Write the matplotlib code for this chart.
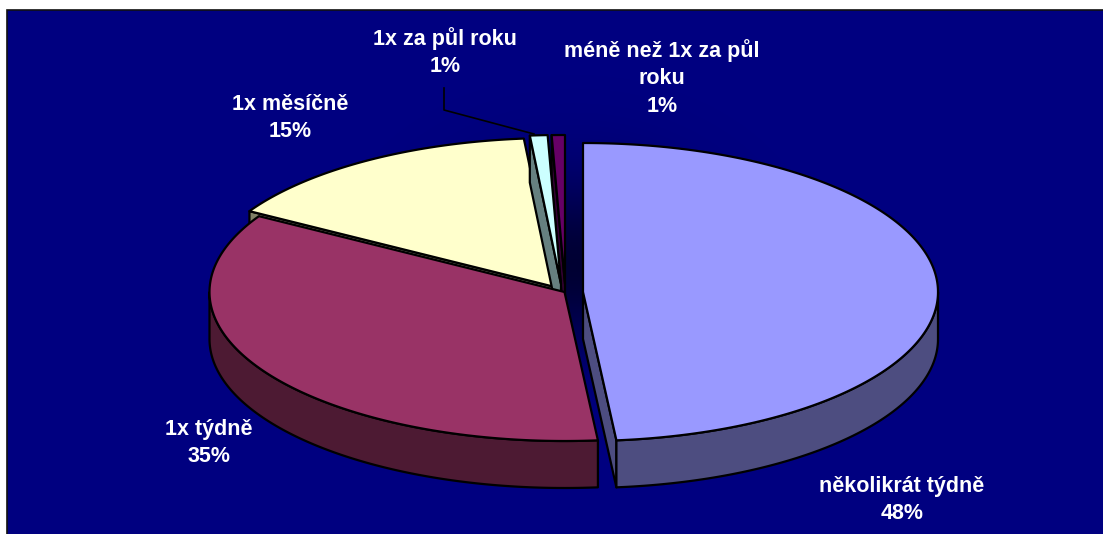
import numpy as np
from matplotlib import pyplot as plt
from matplotlib.patches import Polygon, Rectangle

# slices, clockwise from 12 o'clock
categories = ['několikrát týdně', '1x týdně', '1x měsíčně', '1x za půl roku', 'méně než 1x za půl\nroku']
values = [48.5, 35.0, 15.1, 0.8, 0.6]
pct_labels = ['48%', '35%', '15%', '1%', '1%']

top_colors = ['#9999FF', '#993366', '#FFFFCC', '#CCFFFF', '#660066']
side_colors = ['#4D4D80', '#4D1A33', '#808066', '#668080', '#330033']

# where each exploded slice has its tip, in pixels
tips = [(583, 292), (564.5, 292), (555, 287), (561, 284), (565, 284)]
label_pos = [(902, 500), (209, 443), (290, 118), (445, 52), (662, 78)]
rx, ry, depth = 355, 149, 47

plt.rcParams['font.family'] = ['Liberation Sans', 'DejaVu Sans']

fig = plt.figure(figsize=(11.03, 5.34), dpi=100, facecolor='white')
ax = fig.add_axes([0, 0, 1, 1])
ax.set_xlim(0, 1103)
ax.set_ylim(534, 0)
ax.axis('off')

ax.add_patch(Rectangle((7, 10), 1103, 530, facecolor='#000080', edgecolor='#111111', lw=1.2, zorder=0))

# dark glow behind the middle of the pie
xx, yy = np.meshgrid(np.arange(8, 1103), np.arange(11, 534))
glow = np.zeros(xx.shape + (4,))
glow[..., 3] = 0.6 * np.exp(-((xx - 575) / 110.0) ** 2 - ((yy - 265) / 85.0) ** 2)
ax.imshow(glow, extent=(8, 1103, 534, 11), aspect='auto', zorder=1)
ax.set_xlim(0, 1103)
ax.set_ylim(534, 0)


def rim(tip, a, b):
    t = np.radians(np.linspace(a, b, max(int(b - a) * 2, 2)))
    return np.column_stack([tip[0] + rx * np.sin(t), tip[1] - ry * np.cos(t)])


def shape(pts, color, z):
    ax.add_patch(Polygon(pts, closed=True, facecolor=color, edgecolor='black', lw=1.6,
                         joinstyle='round', zorder=z))


down = np.array([0, depth])
ends = np.cumsum(values) / sum(values) * 360
starts = np.concatenate([[0], ends[:-1]])

# back slices first, the big front ones last
z = 2
for i in [4, 2, 3, 1, 0]:
    a, b = starts[i], ends[i]
    tip = np.array(tips[i], dtype=float)
    if np.sin(np.radians(a)) < 0:
        p = rim(tip, a, a)[0]
        shape([tip, p, p + down, tip + down], side_colors[i], z)
    if np.sin(np.radians(b)) > 0:
        p = rim(tip, b, b)[0]
        shape([tip, p, p + down, tip + down], side_colors[i], z)
    # outer wall, only the part facing the viewer
    lo, hi = max(a, 90), min(b, 270)
    if lo < hi:
        r = rim(tip, lo, hi)
        shape(np.vstack([r, (r + down)[::-1]]), side_colors[i], z + 1)
    shape(np.vstack([[tip], rim(tip, a, b)]), top_colors[i], z + 2)
    z += 3

# leader line of the small slice
ax.plot([444, 444, 534], [88, 110, 134], color='black', lw=1.2, zorder=30)

for name, pct, pos in zip(categories, pct_labels, label_pos):
    ax.text(pos[0], pos[1], name + '\n' + pct, color='white', fontsize=15.5, fontweight='bold',
            ha='center', va='center', linespacing=1.42, zorder=31)

fig.savefig('out.png', dpi=100)
